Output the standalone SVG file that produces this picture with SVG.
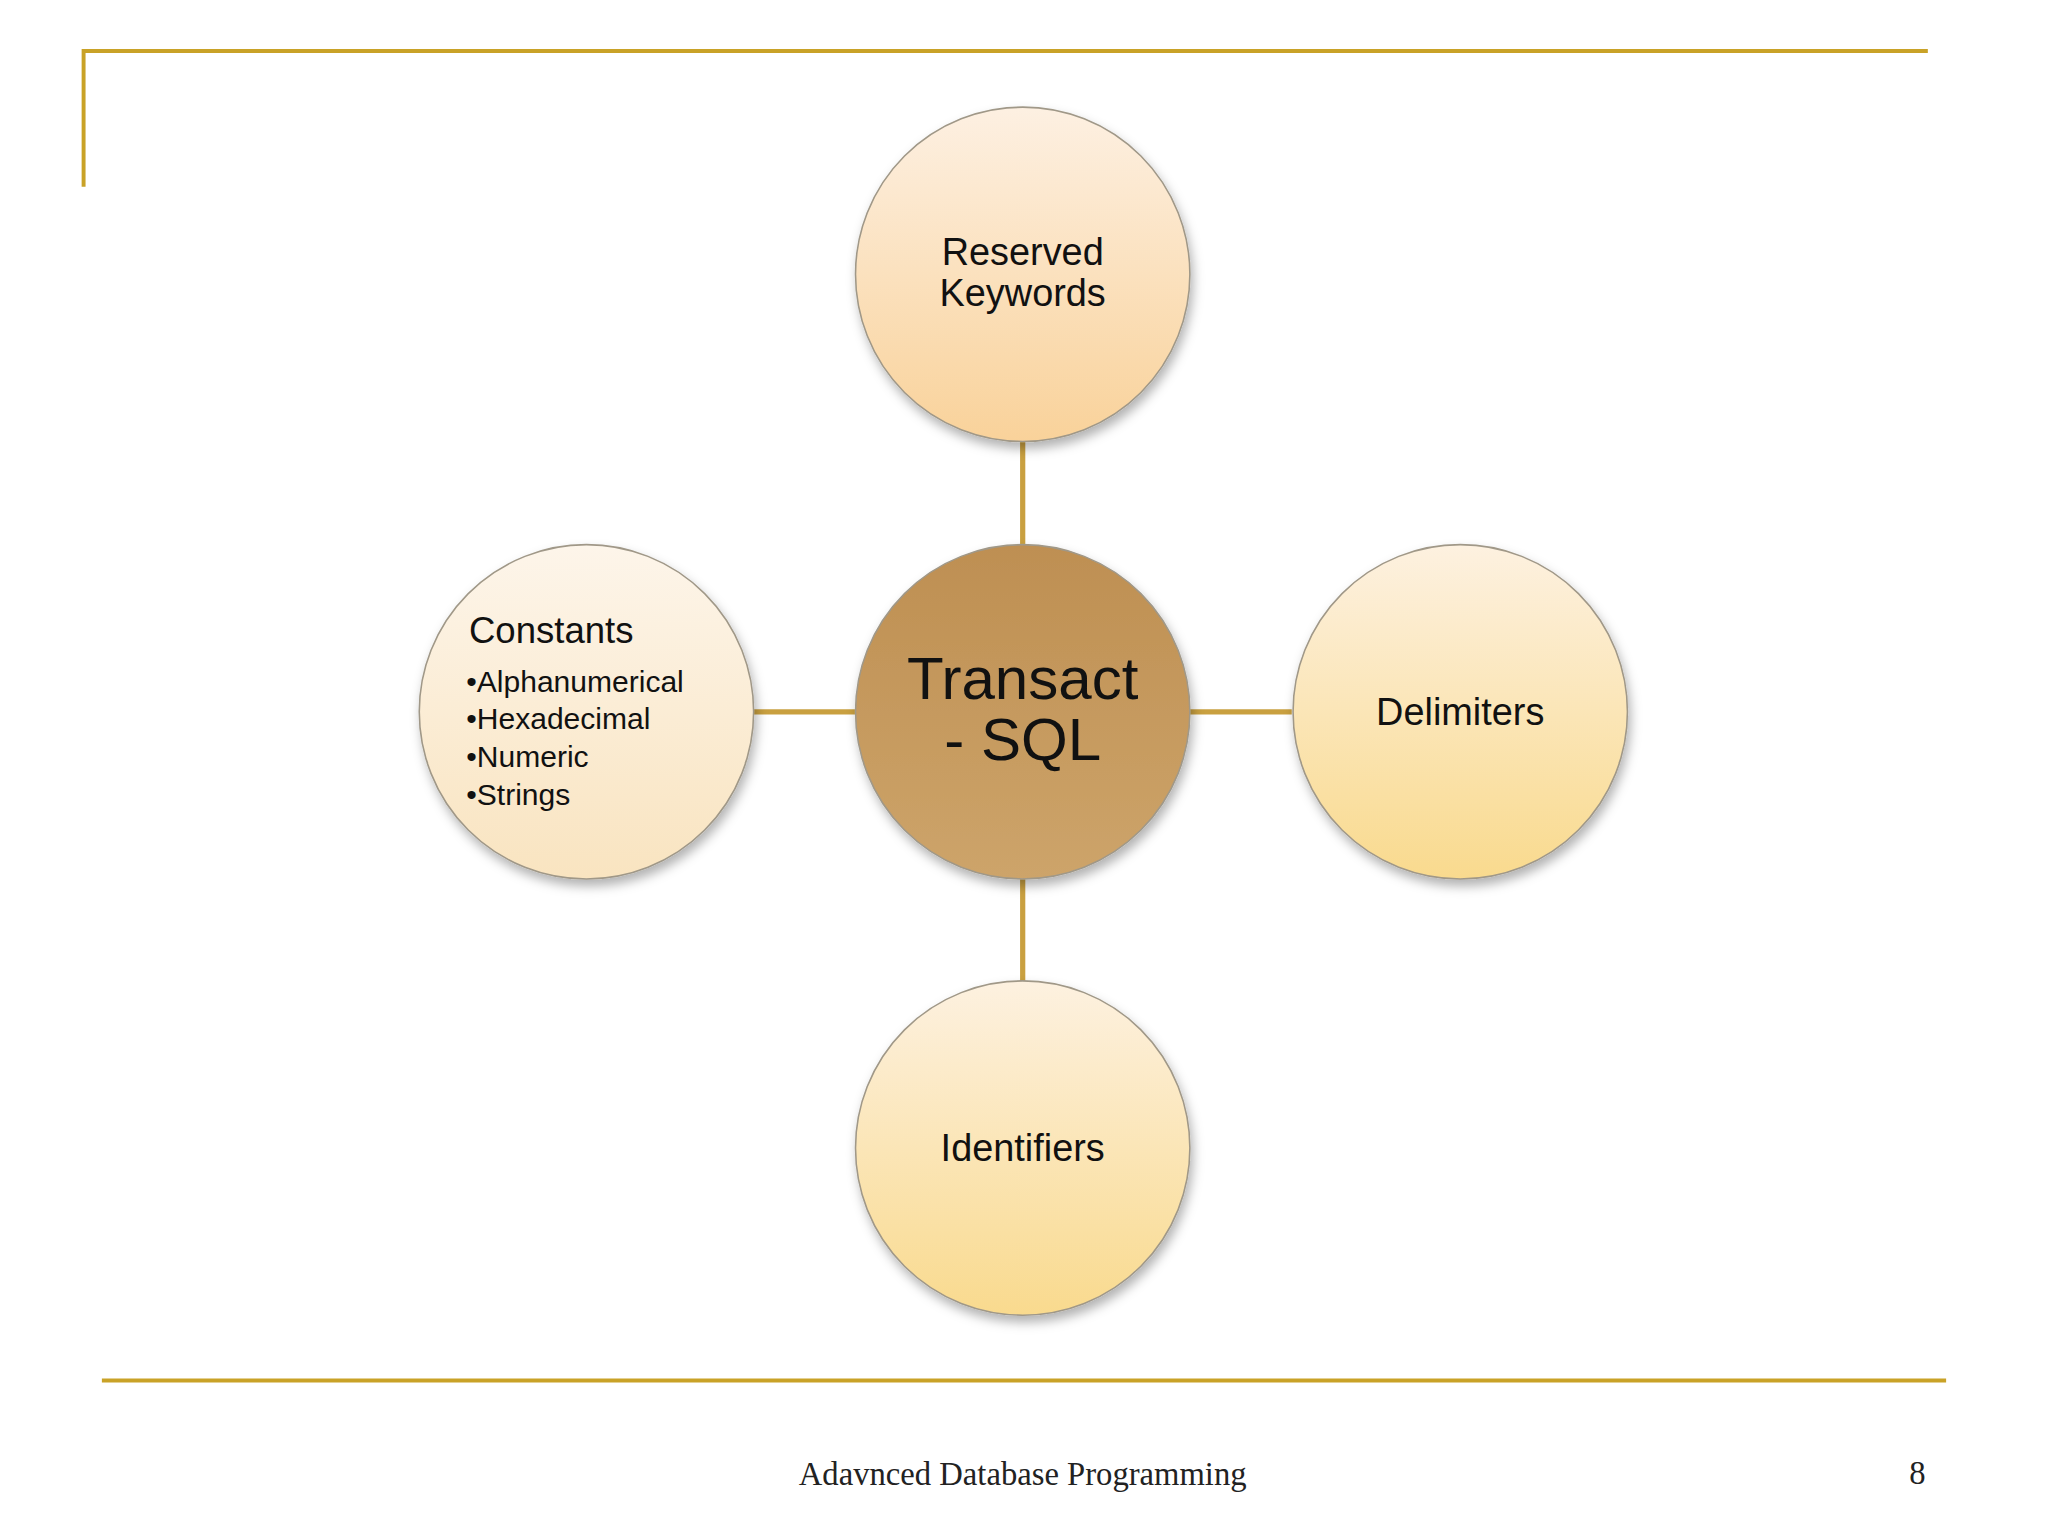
<svg xmlns="http://www.w3.org/2000/svg" width="2048" height="1536" viewBox="0 0 2048 1536">
<defs>
<linearGradient id="gPeach" x1="0" y1="0" x2="0" y2="1"><stop offset="0" stop-color="#FDF0E2"/><stop offset="1" stop-color="#F9D29A"/></linearGradient>
<linearGradient id="gYellow" x1="0" y1="0" x2="0" y2="1"><stop offset="0" stop-color="#FDF1E0"/><stop offset="1" stop-color="#F9DA8E"/></linearGradient>
<linearGradient id="gLight" x1="0" y1="0" x2="0" y2="1"><stop offset="0" stop-color="#FDF5EA"/><stop offset="1" stop-color="#F9E4C0"/></linearGradient>
<linearGradient id="gCenter" x1="0" y1="0" x2="0" y2="1"><stop offset="0" stop-color="#BE8F52"/><stop offset="1" stop-color="#CDA46A"/></linearGradient>
<filter id="sh" x="-20%" y="-20%" width="140%" height="140%"><feDropShadow dx="2" dy="5" stdDeviation="4" flood-color="#000" flood-opacity="0.3"/></filter>
</defs>
<style>
.frame{stroke:#C9A227;stroke-width:3;fill:none}
.conn{stroke:#C9A040;stroke-width:4;fill:none}
.node{stroke:#A09888;stroke-width:1.2;filter:url(#sh)}
.lbl{font-family:Arial,"Liberation Sans",sans-serif;fill:#111;text-anchor:middle}
</style>
<rect width="2048" height="1536" fill="#fff"/>
<g transform="scale(1.30612)">
<g id="frame">
<path class="frame" d="M64,143 V39 H1476"/>
<path class="frame" d="M78,1057 H1490"/>
</g>
<g id="connectors">
<line class="conn" x1="783" y1="338" x2="783" y2="417"/>
<line class="conn" x1="783" y1="673" x2="783" y2="751"/>
<line class="conn" x1="577" y1="545" x2="655" y2="545"/>
<line class="conn" x1="911" y1="545" x2="989" y2="545"/>
</g>
<g id="reserved"><circle class="node" cx="783" cy="210" r="128" fill="url(#gPeach)"/>
<text class="lbl" x="783" y="203" font-size="29">Reserved</text><text class="lbl" x="783" y="234" font-size="29">Keywords</text></g>
<g id="center"><circle class="node" cx="783" cy="545" r="128" fill="url(#gCenter)"/>
<text class="lbl" x="783" y="535" font-size="46">Transact</text><text class="lbl" x="783" y="582" font-size="46">- SQL</text></g>
<g id="constants"><circle class="node" cx="449" cy="545" r="128" fill="url(#gLight)"/>
<text class="lbl" x="359" y="492" font-size="28" text-anchor="start" style="text-anchor:start">Constants</text>
<g class="lbl" font-size="23" style="text-anchor:start">
<text x="357" y="530">•Alphanumerical</text><text x="357" y="558">•Hexadecimal</text><text x="357" y="587">•Numeric</text><text x="357" y="616">•Strings</text></g></g>
<g id="delimiters"><circle class="node" cx="1118" cy="545" r="128" fill="url(#gYellow)"/>
<text class="lbl" x="1118" y="555" font-size="29">Delimiters</text></g>
<g id="identifiers"><circle class="node" cx="783" cy="879" r="128" fill="url(#gYellow)"/>
<text class="lbl" x="783" y="889" font-size="29">Identifiers</text></g>
<g id="footer" font-family="'Liberation Serif',serif" font-size="25" fill="#222">
<text x="783" y="1137" text-anchor="middle">Adavnced Database Programming</text>
<text x="1468" y="1136" text-anchor="middle">8</text></g>
</g>
</svg>
